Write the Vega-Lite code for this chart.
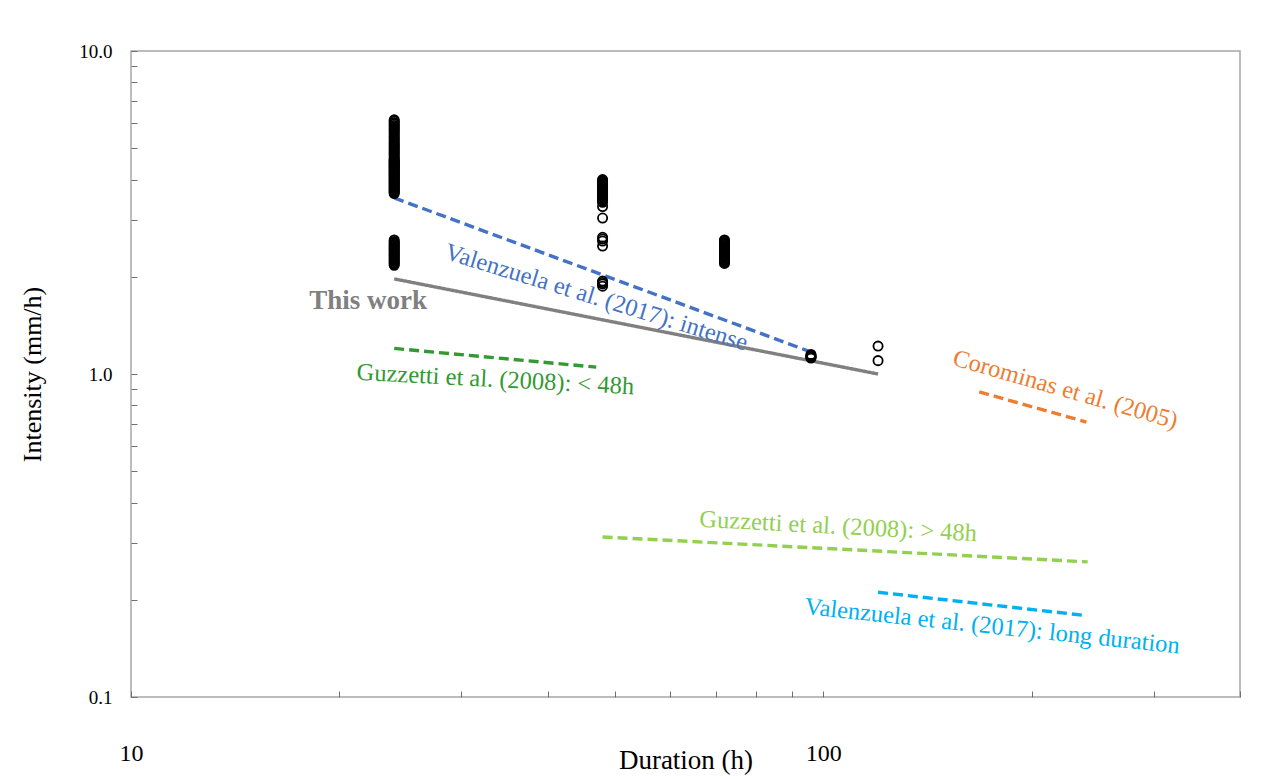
{
  "$schema": "https://vega.github.io/schema/vega-lite/v6.json",
  "width": 1109,
  "height": 646,
  "autosize": {"type": "none"},
  "padding": {"left": 131, "top": 51, "right": 36, "bottom": 82},
  "background": "white",
  "config": {
    "font": "Liberation Serif",
    "view": {"stroke": "#a6a6a6", "strokeWidth": 1.5},
    "axis": {"grid": false, "domain": false, "labelFont": "Liberation Serif", "titleFont": "Liberation Serif", "labelColor": "#000", "titleColor": "#000", "titleFontWeight": "normal", "tickColor": "#707070"}
  },
  "datasets": {
    "points": [
      {"duration": 24, "intensity": 3.62}, {"duration": 24, "intensity": 3.645}, {"duration": 24, "intensity": 3.67}, {"duration": 24, "intensity": 3.695}, {"duration": 24, "intensity": 3.72}, {"duration": 24, "intensity": 3.745}, {"duration": 24, "intensity": 3.77}, {"duration": 24, "intensity": 3.795}, {"duration": 24, "intensity": 3.82}, {"duration": 24, "intensity": 3.845}, {"duration": 24, "intensity": 3.87}, {"duration": 24, "intensity": 3.895}, {"duration": 24, "intensity": 3.92}, {"duration": 24, "intensity": 3.945}, {"duration": 24, "intensity": 3.97}, {"duration": 24, "intensity": 3.995}, {"duration": 24, "intensity": 4.02}, {"duration": 24, "intensity": 4.045}, {"duration": 24, "intensity": 4.07}, {"duration": 24, "intensity": 4.095}, {"duration": 24, "intensity": 4.12}, {"duration": 24, "intensity": 4.145}, {"duration": 24, "intensity": 4.17}, {"duration": 24, "intensity": 4.195}, {"duration": 24, "intensity": 4.22}, {"duration": 24, "intensity": 4.245}, {"duration": 24, "intensity": 4.27}, {"duration": 24, "intensity": 4.295}, {"duration": 24, "intensity": 4.32}, {"duration": 24, "intensity": 4.345}, {"duration": 24, "intensity": 4.37}, {"duration": 24, "intensity": 4.395}, {"duration": 24, "intensity": 4.42}, {"duration": 24, "intensity": 4.45}, {"duration": 24, "intensity": 4.47}, {"duration": 24, "intensity": 4.50}, {"duration": 24, "intensity": 4.52}, {"duration": 24, "intensity": 4.55}, {"duration": 24, "intensity": 4.57}, {"duration": 24, "intensity": 4.60}, {"duration": 24, "intensity": 4.62}, {"duration": 24, "intensity": 4.67}, {"duration": 24, "intensity": 4.72}, {"duration": 24, "intensity": 4.77}, {"duration": 24, "intensity": 4.82}, {"duration": 24, "intensity": 4.87}, {"duration": 24, "intensity": 4.92}, {"duration": 24, "intensity": 4.97}, {"duration": 24, "intensity": 5.02}, {"duration": 24, "intensity": 5.07}, {"duration": 24, "intensity": 5.12}, {"duration": 24, "intensity": 5.17}, {"duration": 24, "intensity": 5.22}, {"duration": 24, "intensity": 5.28}, {"duration": 24, "intensity": 5.34}, {"duration": 24, "intensity": 5.40}, {"duration": 24, "intensity": 5.46}, {"duration": 24, "intensity": 5.52}, {"duration": 24, "intensity": 5.58}, {"duration": 24, "intensity": 5.64}, {"duration": 24, "intensity": 5.70}, {"duration": 24, "intensity": 5.76}, {"duration": 24, "intensity": 5.82}, {"duration": 24, "intensity": 5.88}, {"duration": 24, "intensity": 5.94}, {"duration": 24, "intensity": 6.00}, {"duration": 24, "intensity": 6.06}, {"duration": 24, "intensity": 6.12},
      {"duration": 24, "intensity": 2.17}, {"duration": 24, "intensity": 2.19}, {"duration": 24, "intensity": 2.21}, {"duration": 24, "intensity": 2.23}, {"duration": 24, "intensity": 2.25}, {"duration": 24, "intensity": 2.27}, {"duration": 24, "intensity": 2.29}, {"duration": 24, "intensity": 2.31}, {"duration": 24, "intensity": 2.33}, {"duration": 24, "intensity": 2.35}, {"duration": 24, "intensity": 2.37}, {"duration": 24, "intensity": 2.39}, {"duration": 24, "intensity": 2.41}, {"duration": 24, "intensity": 2.43}, {"duration": 24, "intensity": 2.45}, {"duration": 24, "intensity": 2.47}, {"duration": 24, "intensity": 2.49}, {"duration": 24, "intensity": 2.51}, {"duration": 24, "intensity": 2.53}, {"duration": 24, "intensity": 2.55}, {"duration": 24, "intensity": 2.57}, {"duration": 24, "intensity": 2.60},
      {"duration": 48, "intensity": 3.40}, {"duration": 48, "intensity": 3.43}, {"duration": 48, "intensity": 3.46}, {"duration": 48, "intensity": 3.49}, {"duration": 48, "intensity": 3.52}, {"duration": 48, "intensity": 3.55}, {"duration": 48, "intensity": 3.58}, {"duration": 48, "intensity": 3.61}, {"duration": 48, "intensity": 3.64}, {"duration": 48, "intensity": 3.67}, {"duration": 48, "intensity": 3.70}, {"duration": 48, "intensity": 3.73}, {"duration": 48, "intensity": 3.76}, {"duration": 48, "intensity": 3.79}, {"duration": 48, "intensity": 3.82}, {"duration": 48, "intensity": 3.85}, {"duration": 48, "intensity": 3.88}, {"duration": 48, "intensity": 3.91}, {"duration": 48, "intensity": 3.94}, {"duration": 48, "intensity": 3.97}, {"duration": 48, "intensity": 4.00},
      {"duration": 48, "intensity": 3.30}, {"duration": 48, "intensity": 3.04}, {"duration": 48, "intensity": 2.65}, {"duration": 48, "intensity": 2.62}, {"duration": 48, "intensity": 2.58}, {"duration": 48, "intensity": 2.49}, {"duration": 48, "intensity": 1.94}, {"duration": 48, "intensity": 1.92}, {"duration": 48, "intensity": 1.90}, {"duration": 48, "intensity": 1.87},
      {"duration": 72, "intensity": 2.20}, {"duration": 72, "intensity": 2.22}, {"duration": 72, "intensity": 2.24}, {"duration": 72, "intensity": 2.26}, {"duration": 72, "intensity": 2.28}, {"duration": 72, "intensity": 2.30}, {"duration": 72, "intensity": 2.32}, {"duration": 72, "intensity": 2.34}, {"duration": 72, "intensity": 2.36}, {"duration": 72, "intensity": 2.38}, {"duration": 72, "intensity": 2.40}, {"duration": 72, "intensity": 2.42}, {"duration": 72, "intensity": 2.44}, {"duration": 72, "intensity": 2.46}, {"duration": 72, "intensity": 2.48}, {"duration": 72, "intensity": 2.50}, {"duration": 72, "intensity": 2.52}, {"duration": 72, "intensity": 2.54}, {"duration": 72, "intensity": 2.56}, {"duration": 72, "intensity": 2.58}, {"duration": 72, "intensity": 2.60},
      {"duration": 96, "intensity": 1.12}, {"duration": 96, "intensity": 1.125}, {"duration": 96, "intensity": 1.13}, {"duration": 96, "intensity": 1.135}, {"duration": 96, "intensity": 1.14}, {"duration": 96, "intensity": 1.15},
      {"duration": 120, "intensity": 1.10}, {"duration": 120, "intensity": 1.22}
    ],
    "lines": [
      {"series": "This work", "duration": 24, "intensity": 1.97},
      {"series": "This work", "duration": 120, "intensity": 1.0},
      {"series": "Valenzuela intense", "duration": 24, "intensity": 3.51},
      {"series": "Valenzuela intense", "duration": 96, "intensity": 1.17},
      {"series": "Guzzetti <48h", "duration": 24, "intensity": 1.20},
      {"series": "Guzzetti <48h", "duration": 47, "intensity": 1.05},
      {"series": "Corominas", "duration": 168, "intensity": 0.88},
      {"series": "Corominas", "duration": 240, "intensity": 0.71},
      {"series": "Guzzetti >48h", "duration": 48, "intensity": 0.313},
      {"series": "Guzzetti >48h", "duration": 241, "intensity": 0.262},
      {"series": "Valenzuela long", "duration": 120, "intensity": 0.211},
      {"series": "Valenzuela long", "duration": 238, "intensity": 0.179}
    ],
    "labels": [
      {"series": "Valenzuela intense", "text": "Valenzuela et al. (2017): intense", "duration": 47.0, "intensity": 1.72, "angle": 17},
      {"series": "Guzzetti <48h", "text": "Guzzetti et al. (2008): < 48h", "duration": 33.6, "intensity": 0.958, "angle": 3},
      {"series": "Corominas", "text": "Corominas et al. (2005)", "duration": 223.7, "intensity": 0.892, "angle": 16},
      {"series": "Guzzetti >48h", "text": "Guzzetti et al. (2008): > 48h", "duration": 105.1, "intensity": 0.336, "angle": 3},
      {"series": "Valenzuela long", "text": "Valenzuela et al. (2017): long duration", "duration": 175.4, "intensity": 0.165, "angle": 6}
    ],
    "bold": [
      {"series": "This work", "text": "This work", "duration": 22.0, "intensity": 1.68}
    ]
  },
  "encoding": {
    "x": {
      "field": "duration", "type": "quantitative",
      "scale": {"type": "log", "domain": [10, 400], "nice": false},
      "axis": {
        "title": "Duration (h)", "titleFontSize": 27, "titlePadding": -18,
        "values": [10, 20, 30, 40, 50, 60, 70, 80, 90, 100, 200, 300, 400],
        "labelExpr": "datum.value == 10 || datum.value == 100 ? datum.value : ''",
        "labelFontSize": 24, "labelPadding": 50, "tickSize": -6, "labelFlush": false
      }
    },
    "y": {
      "field": "intensity", "type": "quantitative",
      "scale": {"type": "log", "domain": [0.1, 10], "nice": false},
      "axis": {
        "title": "Intensity (mm/h)", "titleFontSize": 26, "titlePadding": 33,
        "values": [0.1, 0.2, 0.3, 0.4, 0.5, 0.6, 0.7, 0.8, 0.9, 1, 2, 3, 4, 5, 6, 7, 8, 9, 10],
        "labelExpr": "datum.value == 0.1 || datum.value == 1 || datum.value == 10 ? format(datum.value, '.1f') : ''",
        "labelFontSize": 19, "labelPadding": 25, "tickSize": -6, "labelFlush": false
      }
    }
  },
  "layer": [
    {
      "data": {"name": "lines"},
      "mark": {"type": "line", "strokeWidth": 3.4},
      "encoding": {
        "detail": {"field": "series"},
        "color": {
          "field": "series", "type": "nominal", "legend": null,
          "scale": {
            "domain": ["This work", "Valenzuela intense", "Guzzetti <48h", "Corominas", "Guzzetti >48h", "Valenzuela long"],
            "range": ["#808080", "#4472C4", "#339933", "#ED7D31", "#92D050", "#00B0F0"]
          }
        },
        "strokeDash": {
          "field": "series", "type": "nominal", "legend": null,
          "scale": {
            "domain": ["This work", "Valenzuela intense", "Guzzetti <48h", "Corominas", "Guzzetti >48h", "Valenzuela long"],
            "range": [[1, 0], [10, 5], [10, 5], [10, 5], [10, 5], [10, 5]]
          }
        }
      }
    },
    {
      "data": {"name": "points"},
      "mark": {"type": "point", "shape": "circle", "filled": false, "stroke": "#000", "strokeWidth": 1.8, "size": 85, "opacity": 1}
    },
    {
      "data": {"name": "labels"},
      "mark": {"type": "text", "fontSize": 24.5, "font": "Liberation Serif", "align": "center", "baseline": "middle"},
      "encoding": {
        "text": {"field": "text"},
        "angle": {"field": "angle", "type": "quantitative", "scale": null},
        "color": {"field": "series", "type": "nominal", "legend": null}
      }
    },
    {
      "data": {"name": "bold"},
      "mark": {"type": "text", "fontSize": 27, "font": "Liberation Serif", "fontWeight": "bold", "align": "center", "baseline": "middle"},
      "encoding": {
        "text": {"field": "text"},
        "color": {"field": "series", "type": "nominal", "legend": null}
      }
    }
  ]
}
